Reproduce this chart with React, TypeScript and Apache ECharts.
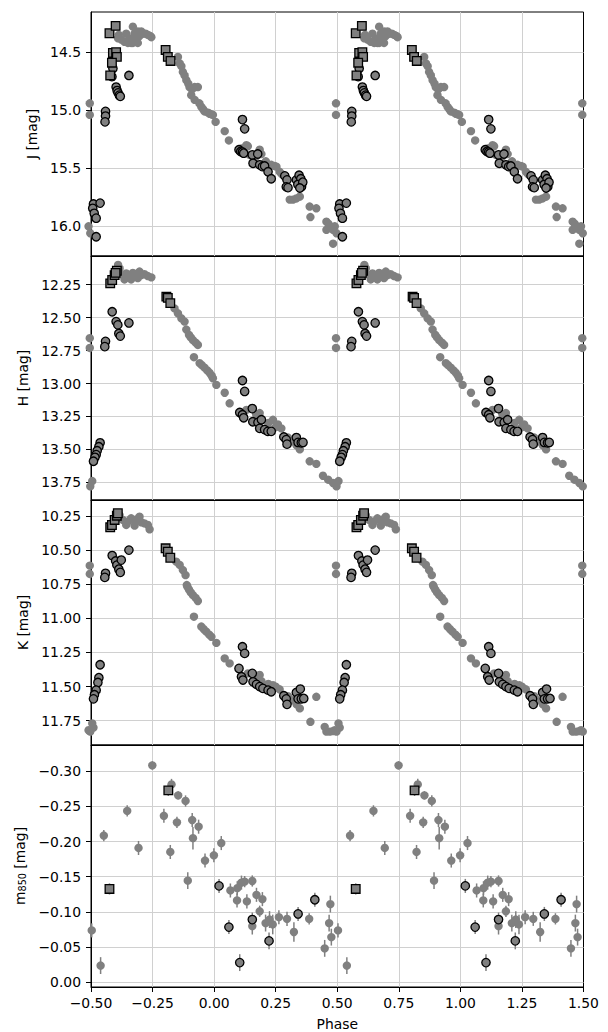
import React, { useEffect, useRef } from "react";
import * as echarts from "echarts";

// ---------- Data (phase in [-0.5, 0.5), magnitude) ----------
const X_TICKS = [-0.5, -0.25, 0, 0.25, 0.5, 0.75, 1.0, 1.25, 1.5];

const J_TICKS = [14.5, 15.0, 15.5, 16.0];
const H_TICKS = [12.25, 12.5, 12.75, 13.0, 13.25, 13.5, 13.75];
const K_TICKS = [10.25, 10.5, 10.75, 11.0, 11.25, 11.5, 11.75];
const M_TICKS = [-0.3, -0.25, -0.2, -0.15, -0.1, -0.05, 0.0];

const J_GRAY = [
  [0.495, 14.94], [0.495, 15.04],
  [-0.387, 14.35], [-0.377, 14.39], [-0.364, 14.41], [-0.357, 14.34], [-0.343, 14.38], [-0.337, 14.42],
  [-0.33, 14.28], [-0.323, 14.34], [-0.316, 14.39], [-0.31, 14.32], [-0.303, 14.36], [-0.296, 14.32],
  [-0.289, 14.34], [-0.278, 14.34], [-0.269, 14.35], [-0.259, 14.36], [-0.255, 14.37], [-0.35, 14.42],
  [-0.33, 14.42], [-0.31, 14.42], [-0.39, 14.38],
  [-0.147, 14.54], [-0.14, 14.595], [-0.133, 14.62], [-0.127, 14.67], [-0.12, 14.7], [-0.113, 14.74],
  [-0.105, 14.77], [-0.1, 14.8], [-0.09, 14.82], [-0.079, 14.8], [-0.066, 14.8], [-0.093, 14.87],
  [-0.079, 14.91], [-0.06, 14.94], [-0.052, 14.97], [-0.045, 14.99], [-0.039, 15.01], [-0.025, 15.02],
  [-0.018, 15.03], [-0.01, 15.035], [-0.005, 15.04], [0.006, 15.1], [0.043, 15.18], [0.06, 15.26],
  [0.11, 15.33], [0.125, 15.32], [0.131, 15.3], [0.137, 15.31], [0.144, 15.385], [0.17, 15.4],
  [0.185, 15.34], [0.192, 15.377], [0.21, 15.44], [0.232, 15.47], [0.245, 15.48], [0.253, 15.486],
  [0.266, 15.53], [0.275, 15.55],
  [0.307, 15.77], [0.32, 15.77], [0.334, 15.76], [0.348, 15.745], [0.388, 15.83], [0.415, 15.845],
  [0.391, 15.92], [0.456, 15.96], [0.465, 15.98], [0.47, 16.0], [0.483, 16.03], [0.49, 16.0],
  [0.497, 16.06], [0.456, 16.03], [0.483, 16.15],
];
const J_EDGE = [
  [-0.346, 14.7], [-0.411, 14.64], [-0.415, 14.71], [-0.398, 14.8], [-0.394, 14.83], [-0.39, 14.85],
  [-0.385, 14.87], [-0.381, 14.88], [-0.441, 15.01], [-0.441, 15.05], [-0.443, 15.1],
  [-0.49, 15.808], [-0.493, 15.845], [-0.487, 15.888], [-0.463, 15.8], [-0.479, 15.93], [-0.479, 16.09],
  [0.115, 15.08], [0.124, 15.16], [0.101, 15.34], [0.108, 15.355], [0.115, 15.36], [0.12, 15.37],
  [0.155, 15.385], [0.177, 15.377], [0.158, 15.457], [0.185, 15.47], [0.196, 15.486], [0.205, 15.48],
  [0.219, 15.53], [0.232, 15.59], [0.287, 15.566], [0.296, 15.6], [0.293, 15.66], [0.3, 15.667],
  [0.334, 15.6], [0.345, 15.56], [0.352, 15.59], [0.34, 15.64], [0.355, 15.66], [0.36, 15.62], [0.348, 15.67],
];
const J_SQUARE = [
  [-0.425, 14.336], [-0.4, 14.273], [-0.411, 14.506], [-0.398, 14.5], [-0.395, 14.54], [-0.415, 14.59],
  [-0.422, 14.7], [-0.197, 14.48], [-0.188, 14.54], [-0.177, 14.575],
];

const H_GRAY = [
  [0.495, 12.656], [0.495, 12.73], [-0.495, 13.74],
  [-0.384, 12.126], [-0.371, 12.177], [-0.357, 12.164], [-0.343, 12.177], [-0.33, 12.16], [-0.316, 12.17],
  [-0.303, 12.15], [-0.296, 12.177], [-0.283, 12.17], [-0.269, 12.184], [-0.255, 12.194], [-0.364, 12.21],
  [-0.337, 12.21], [-0.31, 12.2], [-0.39, 12.1],
  [-0.161, 12.43], [-0.147, 12.467], [-0.133, 12.505], [-0.12, 12.53], [-0.113, 12.59], [-0.102, 12.63],
  [-0.095, 12.65], [-0.086, 12.67], [-0.075, 12.69], [-0.066, 12.707], [-0.082, 12.8], [-0.059, 12.845],
  [-0.05, 12.86], [-0.039, 12.88], [-0.028, 12.9], [-0.018, 12.92], [-0.01, 12.94], [-0.005, 12.96],
  [0.009, 13.01], [0.043, 13.07], [0.063, 13.15],
  [0.131, 13.2], [0.17, 13.23], [0.185, 13.224], [0.22, 13.3], [0.239, 13.275], [0.25, 13.33],
  [0.259, 13.31], [0.273, 13.34], [0.3, 13.41], [0.32, 13.44], [0.335, 13.47], [0.348, 13.5],
  [0.388, 13.59], [0.415, 13.61], [0.442, 13.7], [0.463, 13.73], [0.483, 13.755], [0.497, 13.78],
];
const H_EDGE = [
  [-0.414, 12.455], [-0.398, 12.53], [-0.391, 12.555], [-0.387, 12.62], [-0.381, 12.64], [-0.441, 12.68],
  [-0.444, 12.72], [-0.346, 12.54],
  [-0.463, 13.45], [-0.468, 13.48], [-0.475, 13.51], [-0.479, 13.54], [-0.484, 13.56], [-0.49, 13.59],
  [0.115, 12.977], [0.124, 13.06], [0.104, 13.22], [0.115, 13.237], [0.12, 13.26], [0.155, 13.19],
  [0.157, 13.29], [0.178, 13.295], [0.192, 13.275], [0.185, 13.34], [0.205, 13.35], [0.218, 13.363],
  [0.232, 13.363], [0.283, 13.406], [0.293, 13.426], [0.296, 13.46], [0.334, 13.41], [0.341, 13.447],
  [0.354, 13.45], [0.361, 13.447],
];
const H_SQUARE = [
  [-0.422, 12.24], [-0.414, 12.214], [-0.404, 12.177], [-0.395, 12.144], [-0.4, 12.16],
  [-0.194, 12.34], [-0.188, 12.35], [-0.178, 12.39],
];

const K_GRAY = [
  [0.495, 10.614], [0.495, 10.675], [-0.495, 11.77], [-0.49, 11.8],
  [-0.384, 10.243], [-0.371, 10.279], [-0.35, 10.29], [-0.337, 10.267], [-0.323, 10.279], [-0.31, 10.272],
  [-0.303, 10.255], [-0.296, 10.296], [-0.283, 10.304], [-0.269, 10.316], [-0.262, 10.348], [-0.357, 10.316],
  [-0.323, 10.321], [-0.39, 10.23],
  [-0.154, 10.585], [-0.14, 10.609], [-0.127, 10.646], [-0.116, 10.683], [-0.111, 10.756], [-0.108, 10.77],
  [-0.102, 10.79], [-0.095, 10.81], [-0.086, 10.83], [-0.075, 10.85], [-0.066, 10.873], [-0.082, 10.988],
  [-0.052, 11.06], [-0.042, 11.08], [-0.032, 11.098], [-0.02, 11.12], [-0.011, 11.135], [0.009, 11.18],
  [0.043, 11.293], [0.063, 11.33],
  [0.137, 11.403], [0.17, 11.43], [0.185, 11.415], [0.192, 11.46], [0.22, 11.48], [0.239, 11.49],
  [0.25, 11.5], [0.266, 11.52], [0.3, 11.57], [0.32, 11.6], [0.335, 11.63], [0.348, 11.66],
  [0.391, 11.758], [0.415, 11.575], [0.449, 11.795], [0.456, 11.83], [0.47, 11.83], [0.483, 11.826],
  [0.49, 11.82], [0.497, 11.83],
];
const K_EDGE = [
  [-0.414, 10.54], [-0.4, 10.58], [-0.395, 10.61], [-0.387, 10.64], [-0.381, 10.663], [-0.377, 10.573],
  [-0.441, 10.67], [-0.444, 10.7], [-0.346, 10.5],
  [-0.463, 11.34], [-0.468, 11.435], [-0.472, 11.47], [-0.479, 11.526], [-0.486, 11.56], [-0.49, 11.59],
  [0.115, 11.208], [0.124, 11.257], [0.101, 11.367], [0.111, 11.428], [0.117, 11.452], [0.155, 11.403],
  [0.158, 11.465], [0.172, 11.484], [0.185, 11.5], [0.198, 11.513], [0.219, 11.526], [0.232, 11.538],
  [0.283, 11.567], [0.293, 11.59], [0.296, 11.63], [0.334, 11.543], [0.35, 11.518], [0.341, 11.59],
  [0.354, 11.59], [0.364, 11.587],
];
const K_SQUARE = [
  [-0.422, 10.333], [-0.415, 10.316], [-0.404, 10.279], [-0.395, 10.248], [-0.391, 10.23],
  [-0.197, 10.487], [-0.188, 10.512], [-0.178, 10.556],
];

// phase, m850, error
const M_GRAY = [
  [-0.497, -0.0736, 0.01], [0.472, -0.111, 0.012], [0.467, -0.084, 0.012], [0.476, -0.064, 0.012],
  [0.449, -0.048, 0.012], [-0.461, -0.0235, 0.012], [-0.448, -0.2086, 0.008], [-0.353, -0.2437, 0.008],
  [-0.307, -0.1909, 0.01], [-0.251, -0.3085, 0.006], [-0.204, -0.2367, 0.01], [-0.173, -0.2813, 0.008],
  [-0.178, -0.1852, 0.01], [-0.151, -0.2274, 0.008], [-0.146, -0.2658, 0.006], [-0.116, -0.2578, 0.008],
  [-0.107, -0.1444, 0.012], [-0.089, -0.2307, 0.01], [-0.086, -0.2049, 0.016], [-0.063, -0.2212, 0.01],
  [-0.037, -0.173, 0.01], [-0.001, -0.1805, 0.01], [0.029, -0.1979, 0.01], [0.066, -0.1304, 0.01],
  [0.093, -0.1163, 0.01], [0.094, -0.1336, 0.01], [0.111, -0.1416, 0.01], [0.124, -0.143, 0.008],
  [0.155, -0.1439, 0.008], [0.133, -0.1149, 0.01], [0.155, -0.0797, 0.012], [0.172, -0.1242, 0.01],
  [0.185, -0.1008, 0.008], [0.196, -0.1181, 0.01], [0.209, -0.084, 0.012], [0.225, -0.089, 0.012],
  [0.238, -0.082, 0.014], [0.263, -0.0924, 0.01], [0.296, -0.09, 0.01], [0.324, -0.0713, 0.014],
  [0.386, -0.09, 0.008],
];
const M_EDGE = [
  [0.02, -0.1369, 0.01], [0.06, -0.0783, 0.01], [0.104, -0.0277, 0.012], [0.155, -0.089, 0.01],
  [0.223, -0.0586, 0.012], [0.341, -0.097, 0.01], [0.409, -0.1172, 0.01],
];
const M_SQUARE = [
  [-0.425, -0.1326, 0.008], [-0.186, -0.2729, 0.008],
];

// ---------- Helpers ----------
const GRAY = "#808080";
const FONT = "DejaVu Sans";
const FS = 13.9;

function wrap(points: number[][]) {
  const out: number[][] = [];
  for (const pt of points) {
    for (const k of [-1, 0, 1]) {
      const q = pt[0] + k;
      if (q >= -0.51 && q <= 1.51) out.push([q, ...pt.slice(1)]);
    }
  }
  return out;
}

const fmt = (v: number, d: number) => {
  const s = Math.abs(v).toFixed(d);
  return v < -1e-9 ? "\u2212" + s : s;
};

export default function App() {
  const ref = useRef<HTMLDivElement>(null);
  useEffect(() => {
    document.body.style.margin = "0";
    if (!ref.current) return;
    const chart = echarts.init(ref.current, null, { renderer: "svg" });

    const tops = [12, 256, 500, 745];
    const heights = [244, 244, 245, 245];
    const ranges = [
      [14.153, 16.256],
      [12.032, 13.884],
      [10.133, 11.928],
      [-0.3375, 0.007],
    ];
    const ticks = [J_TICKS, H_TICKS, K_TICKS, M_TICKS];
    const decimals = [1, 2, 2, 2];
    const names = ["J [mag]", "H [mag]", "K [mag]", "m{sub|850} [mag]"];

    const grid = tops.map((t, i) => ({
      left: 91,
      right: 24.5,
      top: t,
      height: heights[i],
      show: true,
      borderColor: "#000",
      borderWidth: 1,
      backgroundColor: "transparent",
    }));

    const xAxis = tops.map((_, i) => ({
      type: "value",
      gridIndex: i,
      min: -0.5,
      max: 1.5,
      interval: 0.25,
      axisLine: { show: true, onZero: false, lineStyle: { color: "#000", width: 1 } },
      axisTick: { show: i === 3, length: 5, lineStyle: { color: "#000", width: 1 } },
      axisLabel: {
        show: i === 3,
        margin: 9,
        color: "#000",
        fontFamily: FONT,
        fontSize: FS,
        formatter: (v: number) => fmt(v, 2),
        showMinLabel: true,
        showMaxLabel: true,
      },
      splitLine: {
        show: true,
        showMinLine: false,
        showMaxLine: false,
        lineStyle: { color: "#d0d0d0", width: 1 },
      },
      name: i === 3 ? "Phase" : "",
      nameLocation: "middle",
      nameGap: 30,
      nameTextStyle: { color: "#000", fontFamily: FONT, fontSize: FS },
    }));

    const yAxis = tops.map((_, i) => ({
      type: "value",
      gridIndex: i,
      inverse: true,
      min: ranges[i][0],
      max: ranges[i][1],
      axisLine: { show: true, onZero: false, lineStyle: { color: "#000", width: 1 } },
      axisTick: { show: true, length: 5, customValues: ticks[i], lineStyle: { color: "#000", width: 1 } },
      axisLabel: {
        show: true,
        margin: 10,
        customValues: ticks[i],
        color: "#000",
        fontFamily: FONT,
        fontSize: FS,
        formatter: (v: number) => fmt(v, decimals[i]),
      },
      splitLine: { show: true, lineStyle: { color: "#d0d0d0", width: 1 } },
      name: names[i],
      nameLocation: "middle",
      nameRotate: 90,
      nameGap: 46,
      nameTextStyle: {
        color: "#000",
        fontFamily: FONT,
        fontSize: FS,
        rich: {
          sub: { fontFamily: FONT, fontSize: 9.7, color: "#000", padding: [6, 0, 0, 0] },
        },
      },
    }));

    const scatter = (idx: number, data: number[][], kind: "gray" | "edge" | "square") => ({
      type: "scatter",
      xAxisIndex: idx,
      yAxisIndex: idx,
      data: wrap(data).map((d) => [d[0], d[1]]),
      symbol: kind === "square" ? "rect" : "circle",
      symbolSize: kind === "square" ? 8.6 : 8.4,
      clip: false,
      silent: true,
      itemStyle: {
        color: GRAY,
        opacity: 1,
        borderColor: kind === "gray" ? "transparent" : "#000",
        borderWidth: kind === "gray" ? 0 : 1.3,
      },
    });

    const errorBars = {
      type: "custom",
      xAxisIndex: 3,
      yAxisIndex: 3,
      data: wrap([...M_GRAY, ...M_EDGE, ...M_SQUARE]),
      encode: { x: 0, y: 1 },
      clip: false,
      silent: true,
      renderItem: (_params: any, api: any) => {
        const x = api.value(0);
        const y = api.value(1);
        const e = api.value(2);
        const p1 = api.coord([x, y - e]);
        const p2 = api.coord([x, y + e]);
        return {
          type: "line",
          shape: { x1: p1[0], y1: p1[1], x2: p2[0], y2: p2[1] },
          style: { stroke: GRAY, lineWidth: 1.5 },
        };
      },
    };

    const series: any[] = [
      scatter(0, J_GRAY, "gray"),
      scatter(0, J_EDGE, "edge"),
      scatter(0, J_SQUARE, "square"),
      scatter(1, H_GRAY, "gray"),
      scatter(1, H_EDGE, "edge"),
      scatter(1, H_SQUARE, "square"),
      scatter(2, K_GRAY, "gray"),
      scatter(2, K_EDGE, "edge"),
      scatter(2, K_SQUARE, "square"),
      errorBars,
      scatter(3, M_GRAY, "gray"),
      scatter(3, M_EDGE, "edge"),
      scatter(3, M_SQUARE, "square"),
    ];

    chart.setOption({
      animation: false,
      backgroundColor: "#fff",
      grid,
      xAxis,
      yAxis,
      series,
    } as any);

    return () => chart.dispose();
  }, []);

  return <div ref={ref} style={{ width: 608, height: 1032 }} />;
}
